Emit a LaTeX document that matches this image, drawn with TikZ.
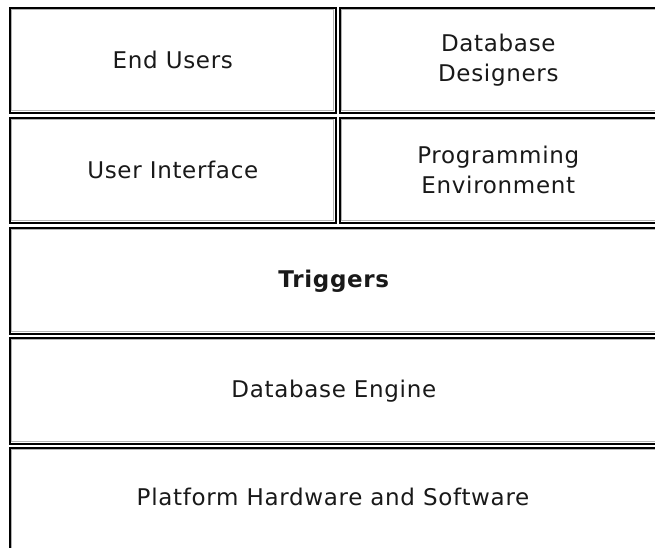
\documentclass[tikz,border=0pt]{standalone}
\usepackage{fontspec}
\setmainfont{DejaVu Sans}[LetterSpace=3]
\begin{document}
\begin{tikzpicture}[x=1pt,y=-1pt,
  layer/.style={draw=black, line width=1.6pt, anchor=north west, inner sep=0pt,
    path picture={\draw[gray!60, line width=1.1pt]
      ([shift={(2pt,-2pt)}]path picture bounding box.north west) rectangle
      ([shift={(-2pt,2pt)}]path picture bounding box.south east);}},
  half/.style={layer, minimum width=326pt, minimum height=105pt},
  full/.style={layer, minimum width=654pt, minimum height=106pt},
  txt/.style={align=center, inner sep=0pt, font=\fontsize{23}{30}\selectfont, text=black!90}]
\path[use as bounding box, clip] (0,0) rectangle (655,548);
\node[half] (users) at (9,7) {};
\node[half, minimum width=324pt] (designers) at (339,7) {};
\node[half] (ui) at (9,117) {};
\node[half, minimum width=324pt] (progenv) at (339,117) {};
\node[full] (triggers) at (9,227) {};
\node[full] (engine) at (9,337) {};
\node[full, minimum height=110pt] (platform) at (9,447) {};
\node[txt] (tusers) at (users.center) {End Users};
\node[txt] (tdesigners) at ([xshift=-3.5pt]designers.center) {Database\\Designers};
\node[txt] (tui) at (ui.center) {User Interface};
\node[txt] (tprogenv) at ([xshift=-3.5pt]progenv.center) {Programming\\Environment};
\node[txt, font=\fontsize{23}{30}\selectfont\bfseries] (ttriggers) at ([xshift=-3pt]triggers.center) {Triggers};
\node[txt] (tengine) at ([xshift=-3pt]engine.center) {Database Engine};
\node[txt] (tplatform) at (333,497) {Platform Hardware and Software};
\end{tikzpicture}
\end{document}
